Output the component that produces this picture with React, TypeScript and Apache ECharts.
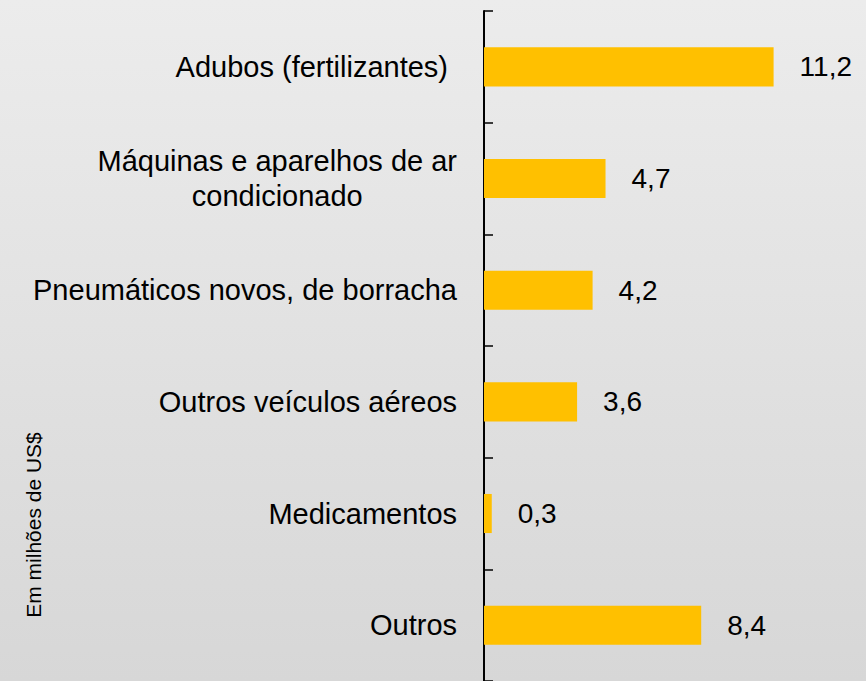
import React, { useEffect, useRef } from "react";
import * as echarts from "echarts";

const categories = [
  "Adubos (fertilizantes)",
  "Máquinas e aparelhos de ar\ncondicionado",
  "Pneumáticos novos, de borracha",
  "Outros veículos aéreos",
  "Medicamentos",
  "Outros",
];
const values = [11.2, 4.7, 4.2, 3.6, 0.3, 8.4];
const unitLabel = "Em milhões de US$";

const FONT = "'Liberation Sans', Arial, Helvetica, sans-serif";

export default function App() {
  const ref = useRef<HTMLDivElement>(null);
  useEffect(() => {
    if (!ref.current) return;
    const chart = echarts.init(ref.current, undefined, { renderer: "svg" });
    chart.setOption({
      animation: false,
      backgroundColor: {
        type: "linear",
        x: 0,
        y: 0,
        x2: 0,
        y2: 1,
        colorStops: [
          { offset: 0, color: "#ececec" },
          { offset: 1, color: "#d7d7d7" },
        ],
      },
      grid: { left: 484, top: 11, width: 362, height: 672 },
      xAxis: { type: "value", show: false, min: 0, max: 14 },
      yAxis: {
        type: "category",
        inverse: true,
        data: categories,
        axisLine: { show: true, lineStyle: { color: "#000", width: 2 } },
        axisTick: {
          show: true,
          inside: true,
          length: 9,
          lineStyle: { color: "#000", width: 1.5 },
        },
        axisLabel: {
          margin: 27,
          color: "#000",
          fontFamily: FONT,
          fontSize: 29,
          formatter: (v: string, i: number) =>
            v
              .split("\n")
              .map((line) => `{${i === 0 ? "p" : "c"}|${line}}`)
              .join("\n"),
          rich: {
            c: {
              align: "center",
              color: "#000",
              fontFamily: FONT,
              fontSize: 29,
              lineHeight: 35,
            },
            p: {
              color: "#000",
              fontFamily: FONT,
              fontSize: 29,
              padding: [0, 9, 0, 0],
            },
          },
        },
        splitLine: { show: false },
      },
      graphic: [
        {
          type: "text",
          x: 33,
          y: 525,
          rotation: Math.PI / 2,
          style: {
            text: unitLabel,
            fill: "#000",
            font: `21px ${FONT}`,
            align: "center",
            verticalAlign: "middle",
          },
        },
      ],
      series: [
        {
          type: "bar",
          data: values,
          barWidth: "35%",
          itemStyle: { color: "#FFC000" },
          label: {
            show: true,
            position: "right",
            distance: 26,
            color: "#000",
            fontFamily: FONT,
            fontSize: 28,
            formatter: (p: any) => Number(p.value).toFixed(1).replace(".", ","),
          },
        },
      ],
    });
    return () => chart.dispose();
  }, []);
  return (
    <div
      ref={ref}
      style={{ position: "fixed", left: 0, top: 0, width: 866, height: 681 }}
    />
  );
}
